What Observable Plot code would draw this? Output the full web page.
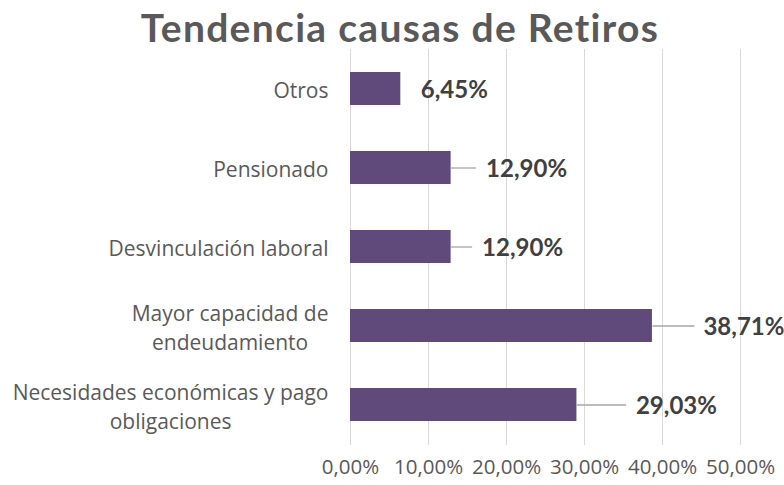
<!DOCTYPE html>
<html><head><meta charset="utf-8">
<script src="https://cdn.jsdelivr.net/npm/d3@7"></script>
<script src="https://cdn.jsdelivr.net/npm/@observablehq/plot@0.6"></script>
<style>
body{margin:0;background:#fff;}
#title{height:49px;font-family:Lato,sans-serif;font-weight:700;font-size:39px;letter-spacing:1.3px;color:#595959;text-align:center;line-height:54px;padding-left:16px;box-sizing:border-box;white-space:nowrap;overflow:visible;}
#chart svg{display:block;}
</style></head><body>
<div id="title">Tendencia causas de Retiros</div>
<div id="chart"></div>
<script>
const categories = ["Otros", "Pensionado", "Desvinculación laboral", "Mayor capacidad de\nendeudamiento", "Necesidades económicas y pago\nobligaciones"];
const values = [0.0645, 0.129, 0.129, 0.3871, 0.2903];
const valueLabels = ["6,45%", "12,90%", "12,90%", "38,71%", "29,03%"];
const tickValues = [0, 0.1, 0.2, 0.3, 0.4, 0.5];
const tickLabels = ["0,00%", "10,00%", "20,00%", "30,00%", "40,00%", "50,00%"];

const data = categories.map((c, i) => ({cat: c, value: values[i], label: valueLabels[i], idx: i}));
const ticks = tickValues.map((v, i) => ({v, t: tickLabels[i]}));

const W = 784, H = 436, ML = 350, MR = 44, MB = 40;
const pxToData = px => px * 0.5 / (W - ML - MR);
// leader length and text gap (pixels) per bar, styling only
const leadPx = [0, 25, 21, 42, 49];
const gapPx = [20, 35, 31, 51, 59];

const chart = Plot.plot({
  width: W, height: H,
  marginLeft: ML, marginRight: MR, marginTop: 0, marginBottom: MB,
  style: {fontFamily: "'Open Sans', sans-serif", background: "#fff"},
  x: {domain: [0, 0.5], axis: null},
  y: {domain: categories, paddingInner: 0.58, paddingOuter: 0.29, axis: null},
  marks: [
    Plot.ruleX(tickValues, {x: d => d, stroke: "#d9d9d9", strokeWidth: 1}),
    Plot.barX(data, {x: "value", y: "cat", fill: "#604a7b"}),
    Plot.link(data.filter(d => leadPx[d.idx] > 0), {
      x1: "value", x2: d => d.value + pxToData(leadPx[d.idx]),
      y1: "cat", y2: "cat", stroke: "#a6a6a6", strokeWidth: 1.3
    }),
    Plot.text(data, {
      x: d => d.value + pxToData(gapPx[d.idx]), y: "cat", text: "label",
      textAnchor: "start", fontSize: 24, fontWeight: 700, fill: "#404040",
      fontFamily: "Lato, sans-serif", dy: 1
    }),
    Plot.text(ticks, {
      x: "v", text: "t", frameAnchor: "bottom", lineAnchor: "middle", dy: 22,
      fontSize: 20.5, fill: "#595959", fontFamily: "'Open Sans', sans-serif"
    }),
    Plot.text(data, {
      x: 0, y: "cat", text: "cat", textAnchor: "end", dx: -22,
      fontSize: 21, fill: "#595959", lineHeight: 1.38, className: "ylab",
      fontFamily: "'Open Sans', sans-serif"
    })
  ]
});
document.getElementById("chart").appendChild(chart);

// center multi-line category labels within their block, right edge preserved
d3.select(chart).selectAll("g.ylab text").each(function() {
  const tspans = d3.select(this).selectAll("tspan");
  if (tspans.size() < 2) return;
  let maxW = 0;
  tspans.each(function() { maxW = Math.max(maxW, this.getComputedTextLength()); });
  d3.select(this).attr("text-anchor", "middle");
  tspans.attr("x", -maxW / 2);
});
</script>
</body></html>
